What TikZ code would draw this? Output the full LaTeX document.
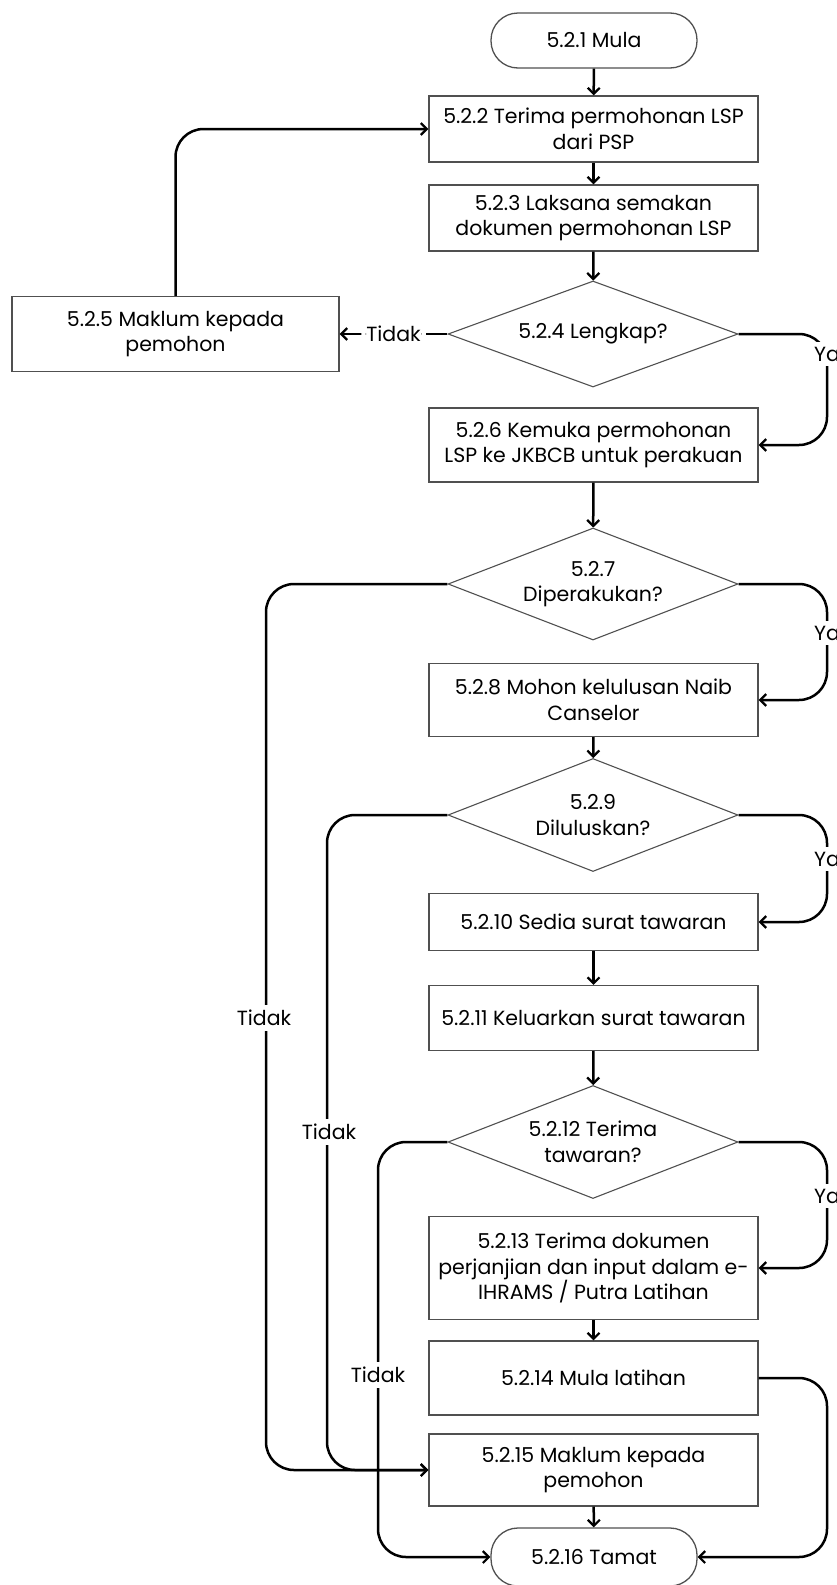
\documentclass[tikz,border=0pt]{standalone}
\usepackage{fontspec}
\setmainfont{Poppins}
\usetikzlibrary{shapes.geometric,arrows.meta}
\definecolor{boxgray}{HTML}{505050}
\tikzset{
  base/.style={font=\fontsize{20.5}{25.5}\selectfont, align=center, inner sep=0pt},
  stepbox/.style={base, draw=boxgray, line width=1.3pt, minimum width=329pt},
  term/.style={base, draw=boxgray, line width=1.3pt, rounded corners=27pt, minimum width=206pt, minimum height=55pt},
  dec/.style={base, diamond, draw=boxgray, line width=1.1pt, minimum width=290pt, minimum height=106pt, aspect=2.7},
  conn/.style={line width=2.5pt, -{Straight Barb[length=6pt,width=12pt,line width=2.2pt]}, rounded corners=28pt},
  lbl/.style={base, fill=white, inner sep=5pt},
}
\begin{document}
\begin{tikzpicture}[x=1pt,y=-1pt]
\useasboundingbox (0,0) rectangle (837,1585);
\node[term] (b1) at (594,40.5) {5.2.1 Mula};
\node[stepbox, minimum height=66pt] (b2) at (593.5,129) {5.2.2 Terima permohonan LSP\\dari PSP};
\node[stepbox, minimum height=66pt] (b3) at (593.5,218) {5.2.3 Laksana semakan\\dokumen permohonan LSP};
\node[dec] (d4) at (593,334) {5.2.4 Lengkap?};
\node[stepbox, minimum width=327pt, minimum height=75pt] (b5) at (175.5,334) {5.2.5 Maklum kepada\\pemohon};
\node[stepbox, minimum height=74pt] (b6) at (593.5,445) {5.2.6 Kemuka permohonan\\LSP ke JKBCB untuk perakuan};
\node[dec, minimum height=112pt] (d7) at (593,584) {5.2.7\\Diperakukan?};
\node[stepbox, minimum height=73pt] (b8) at (593.5,700) {5.2.8 Mohon kelulusan Naib\\Canselor};
\node[dec, minimum height=113pt] (d9) at (593,815) {5.2.9\\Diluluskan?};
\node[stepbox, minimum height=57pt] (b10) at (593.5,922) {5.2.10 Sedia surat tawaran};
\node[stepbox, minimum height=65pt] (b11) at (593.5,1018) {5.2.11 Keluarkan surat tawaran};
\node[dec, minimum height=113pt] (d12) at (593,1142) {5.2.12 Terima\\tawaran?};
\node[stepbox, minimum height=103pt] (b13) at (593.5,1268) {5.2.13 Terima dokumen\\perjanjian dan input dalam e-\\IHRAMS / Putra Latihan};
\node[stepbox, minimum height=74pt] (b14) at (593.5,1378) {5.2.14 Mula latihan};
\node[stepbox, minimum height=72pt] (b15) at (593.5,1470) {5.2.15 Maklum kepada\\pemohon};
\node[term, minimum height=58pt] (b16) at (594,1557) {5.2.16 Tamat};

\draw[conn] (b1) -- (b2);
\draw[conn] (b2) -- (b3);
\draw[conn] (b3) -- (d4);
\draw[conn] (b6) -- (d7);
\draw[conn] (b8) -- (d9);
\draw[conn] (b10) -- (b11);
\draw[conn] (b11) -- (d12);
\draw[conn] (b13) -- (b14);
\draw[conn] (b15) -- (b16);

\draw[conn] (d4.west) -- node[lbl] (t4) {Tidak} (b5.east);
\draw[conn] (b5.north) -- (175.5,129) -- (b2.west);

\draw[conn] (d4.east) -- (827,334) -- (827,445) -- (b6.east);
\node[lbl] (y4) at (827,354) {Ya};
\draw[conn] (d7.east) -- (827,584) -- (827,700) -- (b8.east);
\node[lbl] (y7) at (827,633) {Ya};
\draw[conn] (d9.east) -- (827,815) -- (827,922) -- (b10.east);
\node[lbl] (y9) at (827,859) {Ya};
\draw[conn] (d12.east) -- (827,1142) -- (827,1268) -- (b13.east);
\node[lbl] (y12) at (827,1196) {Ya};

\draw[conn] (d7.west) -- (266,584) -- (266,1470) -- (b15.west);
\node[lbl] (t7) at (264,1018) {Tidak};
\draw[conn] (d9.west) -- (327,815) -- (327,1470) -- (b15.west);
\node[lbl] (t9) at (329,1132) {Tidak};
\draw[conn] (d12.west) -- (378,1142) -- (378,1557) -- (b16.west);
\node[lbl] (t12) at (378,1375) {Tidak};
\draw[conn] (b14.east) -- (827,1378) -- (827,1557) -- (b16.east);
\end{tikzpicture}
\end{document}
